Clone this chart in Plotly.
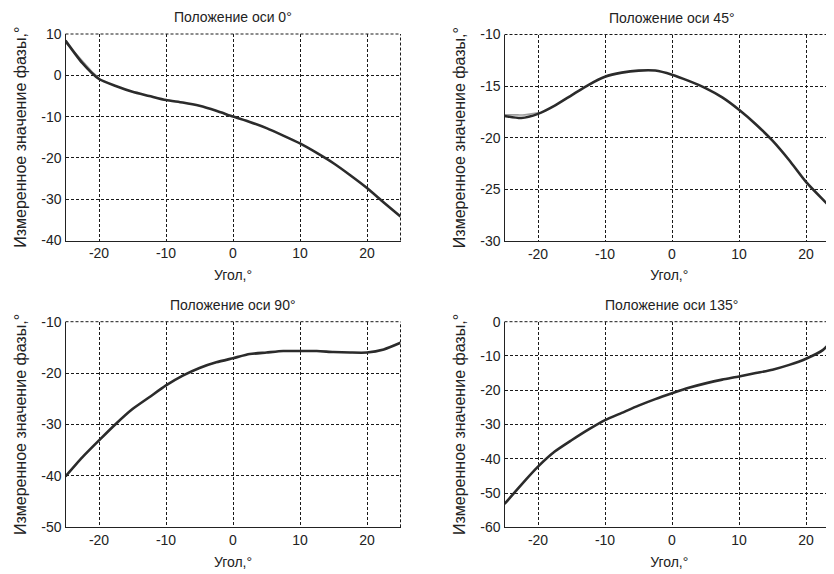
import plotly.graph_objects as go

# ---- data ----
angle = [-25, -22.5, -20, -17.5, -15, -12.5, -10, -7.5, -5, -2.5, 0,
         2.5, 5, 7.5, 10, 12.5, 15, 17.5, 20, 22.5, 25]

phase_0 = [8.4, 3.0, -0.9, -2.6, -4.0, -5.0, -6.0, -6.6, -7.4, -8.6, -10.0,
           -11.3, -12.8, -14.6, -16.5, -18.8, -21.3, -24.2, -27.3, -30.8, -34.2]
phase_45 = [-17.9, -18.1, -17.7, -16.9, -15.9, -14.9, -14.1, -13.7, -13.5, -13.5, -13.9,
            -14.5, -15.2, -16.1, -17.3, -18.7, -20.3, -22.2, -24.3, -26.0, -27.6]
phase_90 = [-40.1, -36.4, -33.1, -29.9, -27.0, -24.7, -22.4, -20.5, -19.0, -17.9, -17.1,
            -16.3, -16.0, -15.7, -15.7, -15.7, -15.9, -16.0, -16.0, -15.4, -14.1]
phase_135 = [-53.2, -47.6, -42.3, -37.9, -34.6, -31.5, -28.7, -26.6, -24.5, -22.6, -20.9,
             -19.3, -18.0, -16.9, -16.0, -15.0, -14.0, -12.6, -10.8, -8.3, -3.0]

# short light-grey reference traces visible at the left end of the top panels
ref_angle = [-25, -24, -23, -22, -21, -20]
ref_0 = [8.0, 6.2, 4.4, 2.6, 0.8, -0.6]
ref_45 = [-17.8, -17.8, -17.8, -17.8, -17.7, -17.6]

titles = ["Положение оси 0°", "Положение оси 45°", "Положение оси 90°", "Положение оси 135°"]
y_tickvals = [[10, 0, -10, -20, -30, -40],
              [-10, -15, -20, -25, -30],
              [-10, -20, -30, -40, -50],
              [0, -10, -20, -30, -40, -50, -60]]
y_ticktext = [["10", "0", "-10", "-20", "-30", "-40"],
              ["-10", "-15", "-20", "-25", "-30"],
              ["-10", "-20", "-30", "-40", "-50"],
              ["0", "-10", "-20", "-30", "-40", "-50", "-60"]]
y_ranges = [[-40, 10], [-30, -10], [-50, -10], [-60, 0]]
x_tickvals = [-20, -10, 0, 10, 20]
x_ticktext = ["-20", "-10", "0", "10", "20"]
x_label = "Угол,°"
y_label = "Измеренное значение фазы,°"

# the page body adds an 8px margin, so the figure is drawn 8px smaller and shifted
OFF = 8
W, H = 834 - OFF, 574 - OFF
# plot-area pixel boxes in page coordinates (left, right, top, bottom)
boxes = [(65.5, 400.5, 34, 240.5), (504.5, 838.5, 34.5, 240.7),
         (65.5, 400.5, 321.7, 527.3), (504.5, 838.5, 321.7, 527.3)]
px_per_unit = 6.70

series = [phase_0, phase_45, phase_90, phase_135]
refs = [ref_0, ref_45, None, None]

fig = go.Figure()
font = "Liberation Sans, Arial, sans-serif"
grid_col = "#1a1a1a"
grid_dash = "3px,2px"
txt_col = "#222222"
for i in range(4):
    l, r, t, b = [v - OFF for v in boxes[i]]
    r_vis = min(r, W)
    xmax = -25 + (r_vis - l) / px_per_unit
    xa = "xaxis" if i == 0 else f"xaxis{i+1}"
    ya = "yaxis" if i == 0 else f"yaxis{i+1}"
    xr = "x" if i == 0 else f"x{i+1}"
    yr = "y" if i == 0 else f"y{i+1}"
    if refs[i] is not None:
        fig.add_trace(go.Scatter(x=ref_angle, y=refs[i], mode="lines",
                                 line=dict(color="#a0a0a0", width=1.6, shape="spline", smoothing=0.6),
                                 xaxis=xr, yaxis=yr, showlegend=False))
    fig.add_trace(go.Scatter(x=angle, y=series[i], mode="lines",
                             line=dict(color="#2b2b2b", width=2.6, shape="spline", smoothing=0.6),
                             xaxis=xr, yaxis=yr, showlegend=False))
    fig.update_layout(**{
        xa: dict(domain=[l / W, r_vis / W], range=[-25, xmax], tickvals=x_tickvals, ticktext=x_ticktext,
                 showgrid=True, gridcolor=grid_col, griddash=grid_dash, gridwidth=1,
                 showline=True, linecolor="#222", linewidth=1.2, automargin=False,
                 zeroline=False, ticks="", anchor=yr,
                 tickfont=dict(family=font, size=14, color=txt_col),
                 title=dict(text=x_label, font=dict(family=font, size=14, color=txt_col), standoff=9)),
        ya: dict(domain=[1 - b / H, 1 - t / H], range=y_ranges[i], tickvals=y_tickvals[i], ticktext=y_ticktext[i],
                 showgrid=True, gridcolor=grid_col, griddash=grid_dash, gridwidth=1,
                 showline=True, linecolor="#222", linewidth=1.2, automargin=False,
                 zeroline=False, ticks="", anchor=xr,
                 tickfont=dict(family=font, size=14, color=txt_col),
                 title=dict(text=y_label, font=dict(family=font, size=16, color=txt_col), standoff=10)),
    })
    # dotted frame on top and right edges
    if r <= W:
        fig.add_shape(type="line", xref=f"{xr} domain", yref=f"{yr} domain", x0=1, x1=1, y0=0, y1=1,
                      line=dict(color=grid_col, width=1, dash=grid_dash))
    fig.add_shape(type="line", xref=f"{xr} domain", yref=f"{yr} domain", x0=0, x1=1, y0=1, y1=1,
                  line=dict(color=grid_col, width=1, dash=grid_dash))
    fig.add_annotation(text=titles[i], xref="paper", yref="paper", x=(l + r) / 2 / W, y=1 - (t - 17) / H,
                       xanchor="center", yanchor="middle", showarrow=False,
                       font=dict(family=font, size=14, color=txt_col))

fig.update_layout(width=W, height=H, margin=dict(l=0, r=0, t=0, b=0),
                  paper_bgcolor="white", plot_bgcolor="white")
fig.write_html("out.html")
